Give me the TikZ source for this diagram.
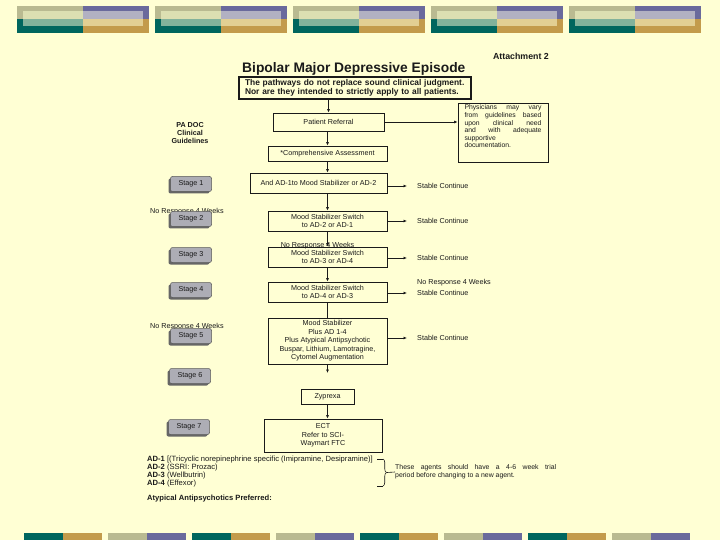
\documentclass[tikz,border=0pt]{standalone}
\usepackage{fontspec}
\setmainfont{Liberation Sans}
\usepackage{tikz}
\usetikzlibrary{positioning, arrows.meta, shadows, decorations.pathreplacing}
\definecolor{paper}{HTML}{FFFFD4}
\definecolor{ink}{HTML}{1A1A1A}
\definecolor{barteal}{HTML}{00665E}
\definecolor{barteallight}{HTML}{82B29B}
\definecolor{bargold}{HTML}{C39B4B}
\definecolor{bargoldlight}{HTML}{E2CF93}
\definecolor{barolive}{HTML}{B9BA91}
\definecolor{barolivelight}{HTML}{DCDFB2}
\definecolor{barpurple}{HTML}{6A6A9C}
\definecolor{barpurplelight}{HTML}{B2B1C2}
\definecolor{stagegray}{HTML}{ADADB5}
\tikzset{
  flowbox/.style  = {rectangle, draw=ink, line width=0.7pt, fill=paper,
                     inner sep=1pt, align=center, text=ink,
                     font=\fontsize{7.2}{8.5}\selectfont},
  stagebox/.style = {rectangle, rounded corners=2pt, draw=gray!70!black,
                     line width=0.5pt, fill=stagegray, minimum width=41pt,
                     minimum height=15pt, inner sep=0pt, text=ink,
                     font=\fontsize{7.2}{8}\selectfont,
                     drop shadow={shadow xshift=-2pt, shadow yshift=-2pt,
                                  fill=black!60, opacity=1}},
  lbl/.style      = {inner sep=0pt, anchor=west, text=ink,
                     font=\fontsize{7.2}{8}\selectfont},
  arr/.style      = {-{Latex[length=3.5pt,width=3pt]}, line width=0.7pt, draw=ink},
  ln/.style       = {line width=0.7pt, draw=ink},
}

\begin{document}
\begin{tikzpicture}[x=1pt, y=-1pt]

  \fill[paper] (0,0) rectangle (720,540);
  \useasboundingbox (0,0) rectangle (720,540);

  % header band
  \foreach \i in {0,...,4} {
    \pgfmathsetmacro{\bx}{17+138*\i}
    \fill[barolive]       (\bx,6)     rectangle ++(66,13);
    \fill[barpurple]      (\bx+66,6)  rectangle ++(66,13);
    \fill[barteal]        (\bx,19)    rectangle ++(66,14);
    \fill[bargold]        (\bx+66,19) rectangle ++(66,14);
    \fill[barolivelight]  (\bx+6,11)  rectangle ++(60,8);
    \fill[barpurplelight] (\bx+66,11) rectangle ++(60,8);
    \fill[barteallight]   (\bx+6,19)  rectangle ++(60,7);
    \fill[bargoldlight]   (\bx+66,19) rectangle ++(60,7);
  }

  % footer band
  \foreach \i/\ca/\cb in {0/barteal/bargold, 1/barolive/barpurple,
                          2/barteal/bargold, 3/barolive/barpurple,
                          4/barteal/bargold, 5/barolive/barpurple,
                          6/barteal/bargold, 7/barolive/barpurple} {
    \fill[\ca] (24+84*\i,533) rectangle ++(39,7);
    \fill[\cb] (63+84*\i,533) rectangle ++(39,7);
  }

  \node[inner sep=0pt, anchor=east, text=ink,
        font=\bfseries\fontsize{8.8}{10}\selectfont] (attach) at (549,56) {Attachment 2};
  \node[inner sep=0pt, anchor=west, text=ink,
        font=\bfseries\fontsize{13.8}{15}\selectfont] (title) at (242,69) {Bipolar Major Depressive Episode};

  \node[flowbox, line width=1.2pt, align=left, text width=220pt, inner xsep=6pt,
        minimum height=22pt, font=\bfseries\fontsize{8.4}{9.5}\selectfont] (disc) at (355,88)
        {The pathways do not replace sound clinical judgment.\\
         Nor are they intended to strictly apply to all patients.};

  \node[align=center, inner sep=0pt, text=ink,
        font=\bfseries\fontsize{7.2}{8.3}\selectfont] (padoc) at (190,133)
        {PA DOC\\Clinical\\Guidelines};

  \node[flowbox, minimum width=111pt, minimum height=18pt] (pr) at (328.5,122) {Patient Referral};
  \node[flowbox, minimum width=90pt, minimum height=59pt, inner sep=2pt] (note) at (503,132.5)
        {\parbox[c][55pt][t]{77pt}{\fontsize{6.8}{7.6}\selectfont
         \makebox[\linewidth][s]{Physicians may vary}\\
         \makebox[\linewidth][s]{from guidelines based}\\
         \makebox[\linewidth][s]{upon clinical need}\\
         \makebox[\linewidth][s]{and with adequate}\\
         supportive\\
         documentation.}};
  \node[flowbox, minimum width=119pt, minimum height=15pt] (ca) at (327.5,153.5) {*Comprehensive Assessment};

  \node[flowbox, minimum width=137pt, minimum height=20pt] (b1) at (318.5,183) {And AD-1to Mood Stabilizer or AD-2};
  \node[flowbox, minimum width=119pt, minimum height=20pt] (b2) at (327.5,221) {Mood Stabilizer Switch\\to AD-2 or AD-1};
  \node[flowbox, minimum width=119pt, minimum height=20pt] (b3) at (327.5,257) {Mood Stabilizer Switch\\to AD-3 or AD-4};
  \node[flowbox, minimum width=119pt, minimum height=20pt] (b4) at (327.5,292) {Mood Stabilizer Switch\\to AD-4 or AD-3};
  \node[flowbox, minimum width=119pt, minimum height=46pt] (b5) at (327.5,341)
        {Mood Stabilizer\\Plus AD 1-4\\Plus Atypical Antipsychotic\\Buspar, Lithium, Lamotragine,\\Cytomel Augmentation};
  \coordinate (b5end) at (327.5,373);
  \node[flowbox, minimum width=53pt, minimum height=15pt] (zy) at (327.5,397) {Zyprexa};
  \node[flowbox, minimum width=118pt, minimum height=33pt] (ect) at (323,435.5) {ECT\\Refer to SCI-\\Waymart FTC};

  \node[lbl, anchor=center] (nr2) at (317.5,245.5) {No Response 4 Weeks};

  \node[lbl] (s1) at (417,186) {Stable Continue};
  \node[lbl] (s2) at (417,221) {Stable Continue};
  \node[lbl] (s3) at (417,258) {Stable Continue};
  \node[lbl] (nr3) at (417,283) {No Response 4 Weeks};
  \node[lbl] (s4) at (417,293) {Stable Continue};
  \node[lbl] (s5) at (417,338) {Stable Continue};

  \node[lbl] (nr1) at (150,212) {No Response 4 Weeks};
  \node[lbl] (nr4) at (150,327) {No Response 4 Weeks};

  \node[stagebox] (st1) at (191,184) {Stage 1};
  \node[stagebox] (st2) at (191,219) {Stage 2};
  \node[stagebox] (st3) at (191,255) {Stage 3};
  \node[stagebox] (st4) at (191,290) {Stage 4};
  \node[stagebox] (st5) at (191,336) {Stage 5};
  \node[stagebox] (st6) at (190,376) {Stage 6};
  \node[stagebox] (st7) at (189,427) {Stage 7};

  % main flow
  \draw[arr] (disc.south -| pr.north) -- (pr.north);
  \draw[arr] (pr.east) -- (pr.east -| note.west);
  \draw[arr] (pr.south -| ca.north) -- (ca.north);
  \draw[arr] (ca.south) -- (ca.south |- b1.north);
  \draw[arr] (b2.north |- b1.south) -- (b2.north);
  \draw[arr] (b2.south) -- (b3.north);
  \draw[arr] (b3.south) -- (b4.north);
  \draw[ln]  (b4.south) -- (b5.north);
  \draw[arr] (b5.south) -- (b5end);
  \draw[arr] (zy.south) -- (zy.south |- ect.north);

  \draw[arr] (b1.east |- s1.west) -- ([xshift=-10pt]s1.west);
  \draw[arr] (b2.east |- s2.west) -- ([xshift=-10pt]s2.west);
  \draw[arr] (b3.east |- s3.west) -- ([xshift=-10pt]s3.west);
  \draw[arr] (b4.east |- s4.west) -- ([xshift=-10pt]s4.west);
  \draw[arr] (b5.east |- s5.west) -- ([xshift=-10pt]s5.west);

  % drug key
  \node[inner sep=0pt, anchor=north west, align=left, text=ink,
        font=\fontsize{7.6}{8}\selectfont] (adlist) at (147,456)
        {\textbf{AD-1} [(Tricyclic norepinephrine specific (Imipramine, Desipramine)]\\
         \textbf{AD-2} (SSRI: Prozac)\\
         \textbf{AD-3} (Wellbutrin)\\
         \textbf{AD-4} (Effexor)};
  \node[lbl, font=\bfseries\fontsize{7.6}{8}\selectfont] (atyp) at (147,499) {Atypical Antipsychotics Preferred:};

  \coordinate (brtop) at (383,459);
  \coordinate (brbot) at (383,486);
  \coordinate (brtip) at (387,472.5);
  \draw[ln, line width=0.6pt, decorate, decoration={brace, amplitude=3.5pt}] (brtop) -- (brbot);
  \draw[ln, line width=0.6pt] ([xshift=-6pt]brtop) -- (brtop);
  \draw[ln, line width=0.6pt] ([xshift=-6pt]brbot) -- (brbot);
  \node[inner sep=0pt, anchor=west, align=left, text=ink,
        font=\fontsize{6.9}{7.8}\selectfont] (agents) at (395,472)
        {\makebox[161pt][s]{These agents should have a 4-6 week trial}\\
         period before changing to a new agent.};
  \draw[ln, line width=0.6pt] (brtip) -- (agents.west);

\end{tikzpicture}
\end{document}
